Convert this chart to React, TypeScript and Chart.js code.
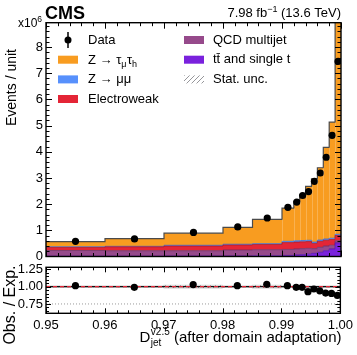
import React, { useEffect, useRef } from "react";
import { Chart, registerables } from "chart.js";
Chart.register(...registerables);

const FONT = "'Liberation Sans', Arial, Helvetica, sans-serif";

// ---------------- data (events in units of 10^6) ----------------
const binEdges = [0.95, 0.96, 0.97, 0.98, 0.985, 0.99, 0.992, 0.993, 0.994, 0.995, 0.996, 0.997, 0.998, 0.999, 1.0];
const dataObs = [0.58, 0.67, 0.92, 1.13, 1.47, 1.88, 2.08, 2.33, 2.48, 2.87, 3.19, 3.79, 4.63, 7.45];
const ttbarSingleT = [0.01, 0.01, 0.015, 0.02, 0.025, 0.04, 0.06, 0.07, 0.09, 0.12, 0.16, 0.22, 0.29, 0.52];
const qcdMultijet = [0.22, 0.21, 0.205, 0.23, 0.235, 0.23, 0.23, 0.23, 0.22, 0.18, 0.19, 0.18, 0.14, 0.08];
const electroweak = [0.12, 0.15, 0.18, 0.19, 0.2, 0.26, 0.26, 0.26, 0.26, 0.2, 0.23, 0.22, 0.22, 0.2];
const zMuMu = [0.02, 0.02, 0.03, 0.03, 0.03, 0.05, 0.05, 0.05, 0.05, 0.05, 0.05, 0.05, 0.05, 0.05];
const zTauTau = [0.2, 0.29, 0.46, 0.64, 0.93, 1.27, 1.5, 1.74, 2.06, 2.42, 2.76, 3.5, 4.43, 8.45];
const ratioObs = [1.015, 0.99, 1.03, 1.015, 1.034, 1.015, 0.99, 0.99, 0.927, 0.966, 0.94, 0.908, 0.903, 0.873];
const ratioStatUnc = [0.01, 0.01, 0.02, 0.01, 0.02, 0.01, 0.01, 0.01, 0.01, 0.01, 0.01, 0.01, 0.01, 0.01];
const xTickValues = [0.95, 0.96, 0.97, 0.98, 0.99, 1.0];
const yTicksMain = [0, 1, 2, 3, 4, 5, 6, 7, 8];
const yTicksRatio = [0.75, 1.0, 1.25];
const ratioUnity = 1.0;
const ratioGuide = 0.75;

// ---------------- geometry ----------------
const W = 357;
const H_TOTAL = 355;
const H1 = 268; // main canvas height (from top 0)
const R_CANVAS_TOP = 256; // ratio canvas top
const H2 = H_TOTAL - R_CANVAS_TOP;
const PL = 46;
const PR = 341;
const MAIN_TOP = 22.7;
const MAIN_BOT = 256.5;
const R_TOP = 267.3;
const R_BOT = 313.3;

const COLORS = ["#7a21dd", "#964a8b", "#e42536", "#5790fc", "#f89c20"];
const EDGES = ["#5512a8", "#6d3065", "#a81a28", "#3d6fd0", "#4a4a4a"];

function stepPoints(vals: number[]) {
  const pts = vals.map((v, i) => ({ x: binEdges[i], y: v }));
  pts.push({ x: binEdges[binEdges.length - 1], y: vals[vals.length - 1] });
  return pts;
}

function centers() {
  return binEdges.slice(0, -1).map((e, i) => (e + binEdges[i + 1]) / 2);
}

function makeHatch(): any {
  const c = document.createElement("canvas");
  c.width = 5;
  c.height = 5;
  const g = c.getContext("2d")!;
  g.strokeStyle = "#8a8a8f";
  g.lineWidth = 0.9;
  g.beginPath();
  g.moveTo(0, 5);
  g.lineTo(5, 0);
  g.moveTo(-1, 1);
  g.lineTo(1, -1);
  g.moveTo(4, 6);
  g.lineTo(6, 4);
  g.stroke();
  return g.createPattern(c, "repeat");
}

function frameTicks(cfg: { yStep: number; k0: number; k1: number; every: number; major: number; minor: number }) {
  return {
    id: "frameTicks",
    afterDatasetsDraw(chart: any) {
      const { ctx, chartArea: a, scales } = chart;
      const xs = scales.x;
      const ys = scales.y;
      ctx.save();
      ctx.strokeStyle = "#000";
      ctx.lineWidth = 1;
      ctx.beginPath();
      for (let k = 0; k <= 25; k++) {
        const px = Math.round(xs.getPixelForValue(0.95 + k * 0.002)) + 0.5;
        const len = k % 5 === 0 ? cfg.major : cfg.minor;
        ctx.moveTo(px, a.bottom);
        ctx.lineTo(px, a.bottom - len);
        ctx.moveTo(px, a.top);
        ctx.lineTo(px, a.top + len);
      }
      for (let k = cfg.k0; k <= cfg.k1; k++) {
        const py = Math.round(ys.getPixelForValue(k * cfg.yStep)) + 0.5;
        if (py < a.top - 0.5 || py > a.bottom + 0.5) continue;
        const len = k % cfg.every === 0 ? cfg.major : cfg.minor;
        ctx.moveTo(a.left, py);
        ctx.lineTo(a.left + len, py);
        ctx.moveTo(a.right, py);
        ctx.lineTo(a.right - len, py);
      }
      ctx.stroke();
      ctx.lineWidth = 1.4;
      ctx.strokeRect(a.left, a.top, a.right - a.left, a.bottom - a.top);
      ctx.restore();
    },
  };
}

export default function App() {
  const mainRef = useRef<HTMLCanvasElement>(null);
  const ratioRef = useRef<HTMLCanvasElement>(null);

  useEffect(() => {
    const hatch = makeHatch();
    const comps = [ttbarSingleT, qcdMultijet, electroweak, zMuMu, zTauTau];
    let run = binEdges.slice(0, -1).map(() => 0);
    const cums = comps.map((c) => {
      run = run.map((r, i) => r + c[i]);
      return run;
    });
    const xc = centers();

    const stackSets: any[] = cums.map((cum, i) => ({
      type: "line",
      data: stepPoints(cum),
      stepped: true,
      fill: i === 0 ? "origin" : "-1",
      backgroundColor: COLORS[i],
      borderColor: EDGES[i],
      borderWidth: i === 4 ? 1.2 : 0.8,
      pointRadius: 0,
      tension: 0,
      order: 0,
    }));

    const binLines = {
      id: "binLines",
      afterDatasetsDraw(chart: any) {
        const { ctx, scales } = chart;
        ctx.save();
        ctx.strokeStyle = "rgba(255,255,255,0.22)";
        ctx.lineWidth = 1;
        ctx.beginPath();
        for (let i = 5; i < binEdges.length - 1; i++) {
          const px = Math.round(scales.x.getPixelForValue(binEdges[i])) + 0.5;
          const lo = Math.max(cums[3][i - 1], cums[3][i]);
          const hi = Math.min(cums[4][i - 1], cums[4][i]);
          ctx.moveTo(px, scales.y.getPixelForValue(lo));
          ctx.lineTo(px, scales.y.getPixelForValue(hi));
        }
        ctx.stroke();
        ctx.restore();
      },
    };

    const mainText = {
      id: "mainText",
      afterDraw(chart: any) {
        const ctx = chart.ctx;
        ctx.save();
        ctx.fillStyle = "#000";
        ctx.textAlign = "left";
        ctx.textBaseline = "alphabetic";
        // CMS
        ctx.font = `bold 18px ${FONT}`;
        ctx.fillText("CMS", 45, 19);
        // lumi
        ctx.font = `13px ${FONT}`;
        const a1 = "7.98 fb";
        const a3 = " (13.6 TeV)";
        const w1 = ctx.measureText(a1).width;
        const w3 = ctx.measureText(a3).width;
        ctx.font = `9px ${FONT}`;
        const w2 = ctx.measureText("\u22121").width;
        let x = PR - (w1 + w2 + w3);
        ctx.font = `13px ${FONT}`;
        ctx.fillText(a1, x, 17);
        x += w1;
        ctx.font = `9px ${FONT}`;
        ctx.fillText("\u22121", x, 11.5);
        x += w2;
        ctx.font = `13px ${FONT}`;
        ctx.fillText(a3, x, 17);
        // x10^6
        ctx.font = `12px ${FONT}`;
        ctx.fillText("x10", 18, 27);
        const wx = ctx.measureText("x10").width;
        ctx.font = `8.5px ${FONT}`;
        ctx.fillText("6", 18 + wx, 22);
        // y title
        ctx.save();
        ctx.translate(12, 49);
        ctx.rotate(-Math.PI / 2);
        ctx.font = `14px ${FONT}`;
        ctx.textAlign = "right";
        ctx.textBaseline = "middle";
        ctx.fillText("Events / unit", 0, 0);
        ctx.restore();

        // legend
        const rowY = [40, 59.7, 79.4, 99];
        const lx = 88;
        const rx = 213;
        ctx.font = `13px ${FONT}`;
        ctx.textBaseline = "middle";
        // Data
        ctx.strokeStyle = "#000";
        ctx.lineWidth = 1.5;
        ctx.beginPath();
        ctx.moveTo(68, rowY[0] - 8);
        ctx.lineTo(68, rowY[0] + 8);
        ctx.stroke();
        ctx.beginPath();
        ctx.arc(68, rowY[0], 3.5, 0, Math.PI * 2);
        ctx.fill();
        ctx.fillText("Data", lx, rowY[0]);
        // boxes
        const box = (bx: number, y: number, col: any) => {
          ctx.fillStyle = col;
          ctx.fillRect(bx, y - 4, 20, 8);
        };
        box(58, rowY[1], COLORS[4]);
        box(58, rowY[2], COLORS[3]);
        box(58, rowY[3], COLORS[2]);
        box(184, rowY[0], COLORS[1]);
        box(184, rowY[1], COLORS[0]);
        box(184, rowY[2], hatch);
        ctx.fillStyle = "#000";
        // Z -> tau_mu tau_h
        {
          const base = rowY[1] + 4.6;
          ctx.textBaseline = "alphabetic";
          let px = lx;
          ctx.font = `13px ${FONT}`;
          ctx.fillText("Z \u2192 \u03c4", px, base);
          px += ctx.measureText("Z \u2192 \u03c4").width;
          ctx.font = `9px ${FONT}`;
          ctx.fillText("\u03bc", px, base + 3);
          px += ctx.measureText("\u03bc").width + 0.5;
          ctx.font = `13px ${FONT}`;
          ctx.fillText("\u03c4", px, base);
          px += ctx.measureText("\u03c4").width;
          ctx.font = `9px ${FONT}`;
          ctx.fillText("h", px, base + 3);
        }
        ctx.font = `13px ${FONT}`;
        ctx.textBaseline = "middle";
        ctx.fillText("Z \u2192 \u03bc\u03bc", lx, rowY[2]);
        ctx.fillText("Electroweak", lx, rowY[3]);
        ctx.fillText("QCD multijet", rx, rowY[0]);
        ctx.fillText("tt\u0304 and single t", rx, rowY[1]);
        ctx.fillText("Stat. unc.", rx, rowY[2]);
        ctx.restore();
      },
    };

    const mainChart = new Chart(mainRef.current!, {
      type: "line",
      data: {
        datasets: [
          ...stackSets,
          {
            type: "scatter",
            data: xc.map((x, i) => ({ x, y: dataObs[i] })),
            pointRadius: 3.6,
            pointBackgroundColor: "#000",
            pointBorderColor: "#000",
            borderWidth: 0,
            showLine: false,
            order: -1,
          },
        ],
      },
      options: {
        animation: false,
        responsive: false,
        devicePixelRatio: 1,
        layout: { padding: { left: 0, right: W - PR, top: MAIN_TOP, bottom: H1 - MAIN_BOT } },
        plugins: { legend: { display: false }, tooltip: { enabled: false } },
        scales: {
          x: { type: "linear", min: 0.95, max: 1.0, display: false },
          y: {
            type: "linear",
            min: 0,
            max: 8.93,
            afterFit: (s: any) => {
              s.width = PL;
            },
            afterBuildTicks: (s: any) => {
              s.ticks = yTicksMain.map((v) => ({ value: v }));
            },
            grid: { display: false, drawTicks: false },
            border: { display: false },
            ticks: {
              padding: 3,
              color: "#000",
              font: { size: 13, family: FONT },
              callback: (v: any) => String(v),
            },
          },
        },
      } as any,
      plugins: [binLines, frameTicks({ yStep: 0.2, k0: 0, k1: 44, every: 5, major: 6, minor: 3.5 }), mainText],
    } as any);

    const ratioText = {
      id: "ratioText",
      afterDraw(chart: any) {
        const ctx = chart.ctx;
        ctx.save();
        ctx.fillStyle = "#000";
        ctx.save();
        ctx.translate(11, 305 - R_CANVAS_TOP);
        ctx.rotate(-Math.PI / 2);
        ctx.font = `16px ${FONT}`;
        ctx.textAlign = "center";
        ctx.textBaseline = "middle";
        ctx.fillText("Obs. / Exp.", 0, 0);
        ctx.restore();
        // x title
        ctx.textAlign = "left";
        ctx.textBaseline = "alphabetic";
        const base = 342 - R_CANVAS_TOP;
        ctx.font = `15px ${FONT}`;
        const tail = " (after domain adaptation)";
        const wt = ctx.measureText(tail).width;
        const wD = ctx.measureText("D").width;
        ctx.font = `10px ${FONT}`;
        const ws = Math.max(ctx.measureText("v2.5").width, ctx.measureText("jet").width);
        let x = PR - (wD + ws + wt);
        ctx.font = `15px ${FONT}`;
        ctx.fillText("D", x, base);
        x += wD + 0.5;
        ctx.font = `10px ${FONT}`;
        ctx.fillText("v2.5", x, base - 7);
        ctx.fillText("jet", x, base + 4);
        x += ws;
        ctx.font = `15px ${FONT}`;
        ctx.fillText(tail, x, base);
        ctx.restore();
      },
    };

    const lineAt = (v: number) => [
      { x: binEdges[0], y: v },
      { x: binEdges[binEdges.length - 1], y: v },
    ];

    const ratioChart = new Chart(ratioRef.current!, {
      type: "line",
      data: {
        datasets: [
          {
            type: "scatter",
            data: xc.map((x, i) => ({ x, y: ratioObs[i] })),
            pointRadius: 3.6,
            pointBackgroundColor: "#000",
            pointBorderColor: "#000",
            borderWidth: 0,
            showLine: false,
            order: -1,
          },
          {
            data: lineAt(ratioUnity),
            borderColor: "#e42536",
            borderWidth: 1.3,
            borderDash: [4, 3],
            pointRadius: 0,
            fill: false,
            order: 1,
          },
          {
            data: lineAt(ratioGuide),
            borderColor: "#9a9a9a",
            borderWidth: 1,
            borderDash: [1, 2],
            pointRadius: 0,
            fill: false,
            order: 1,
          },
          {
            data: stepPoints(ratioObs.map(() => ratioUnity)),
            stepped: true,
            borderColor: "#111",
            borderWidth: 1.2,
            pointRadius: 0,
            fill: false,
            order: 2,
          },
          {
            data: stepPoints(ratioStatUnc.map((u) => ratioUnity - u)),
            stepped: true,
            borderColor: "rgba(120,120,120,0.6)",
            borderWidth: 0.6,
            pointRadius: 0,
            fill: false,
            order: 3,
          },
          {
            data: stepPoints(ratioStatUnc.map((u) => ratioUnity + u)),
            stepped: true,
            borderColor: "rgba(120,120,120,0.6)",
            borderWidth: 0.6,
            backgroundColor: hatch,
            pointRadius: 0,
            fill: "-1",
            order: 3,
          },
        ],
      },
      options: {
        animation: false,
        responsive: false,
        devicePixelRatio: 1,
        layout: { padding: { left: 0, right: W - PR, top: R_TOP - R_CANVAS_TOP, bottom: 0 } },
        plugins: { legend: { display: false }, tooltip: { enabled: false } },
        scales: {
          x: {
            type: "linear",
            min: 0.95,
            max: 1.0,
            afterFit: (s: any) => {
              s.height = H_TOTAL - R_BOT;
            },
            afterBuildTicks: (s: any) => {
              s.ticks = xTickValues.map((v) => ({ value: v }));
            },
            grid: { display: false, drawTicks: false },
            border: { display: false },
            ticks: {
              padding: 4,
              color: "#000",
              autoSkip: false,
              maxRotation: 0,
              font: { size: 13, family: FONT },
              callback: (v: any) => Number(v).toFixed(2),
            },
          },
          y: {
            type: "linear",
            min: 0.615,
            max: 1.28,
            afterFit: (s: any) => {
              s.width = PL;
            },
            afterBuildTicks: (s: any) => {
              s.ticks = yTicksRatio.map((v) => ({ value: v }));
            },
            grid: { display: false, drawTicks: false },
            border: { display: false },
            ticks: {
              padding: 3,
              color: "#000",
              font: { size: 13, family: FONT },
              callback: (v: any) => Number(v).toFixed(2),
            },
          },
        },
      } as any,
      plugins: [frameTicks({ yStep: 0.05, k0: 13, k1: 25, every: 5, major: 5, minor: 3 }), ratioText],
    } as any);

    return () => {
      mainChart.destroy();
      ratioChart.destroy();
    };
  }, []);

  return (
    <div style={{ position: "absolute", left: 0, top: 0, width: W, height: H_TOTAL, background: "#fff" }}>
      <canvas ref={mainRef} width={W} height={H1} style={{ position: "absolute", left: 0, top: 0, width: W, height: H1 }} />
      <canvas
        ref={ratioRef}
        width={W}
        height={H2}
        style={{ position: "absolute", left: 0, top: R_CANVAS_TOP, width: W, height: H2 }}
      />
    </div>
  );
}
